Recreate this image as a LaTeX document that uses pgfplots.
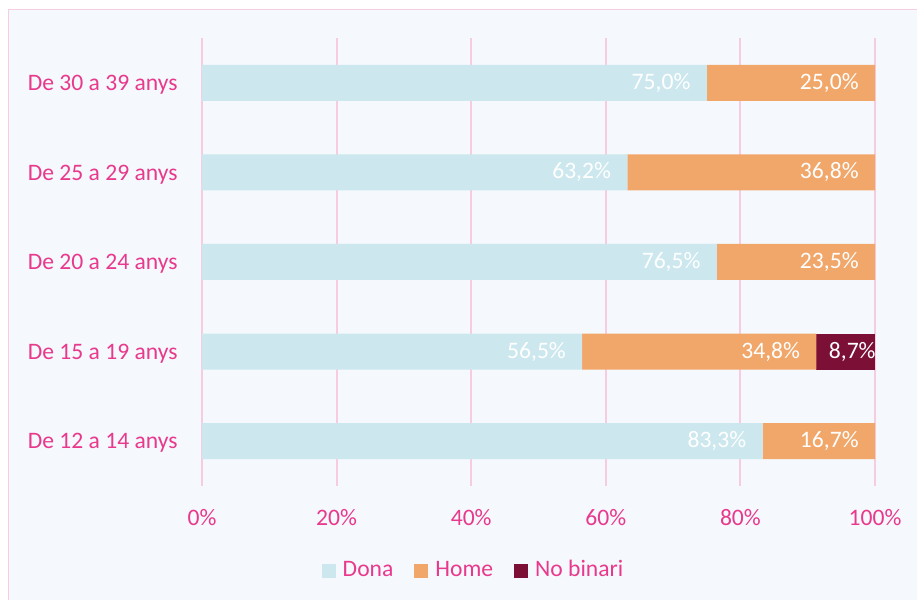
\documentclass[border=0pt]{standalone}
\usepackage{pgfplots}
\pgfplotsset{compat=1.18}
\usepackage{fontspec}
\setmainfont{Carlito}
\definecolor{dona}{HTML}{CCE8EE}
\definecolor{home}{HTML}{F1A76A}
\definecolor{nob}{HTML}{7B0F35}
\definecolor{pinktxt}{HTML}{E8398D}
\definecolor{bgc}{HTML}{F5F9FD}
\definecolor{framec}{HTML}{F7CDE2}
\definecolor{gridc}{HTML}{F8CCE0}
\begin{document}
\fontsize{11.8pt}{14pt}\selectfont
\begin{tikzpicture}
\useasboundingbox (0,0) rectangle (458.5pt,300pt);
\fill[white] (0,0) rectangle (458.5pt,300pt);
\begin{scope}
\clip (0,0) rectangle (458.5pt,300pt);
\filldraw[fill=bgc, draw=framec, line width=0.6pt] (4.25pt,295.3pt) rectangle (470pt,-10pt);
\end{scope}
\begin{axis}[
  at={(101pt,57pt)}, anchor=south west,
  scale only axis, width=336.5pt, height=224pt,
  xbar stacked, bar width=18pt,
  xmin=0, xmax=100, ymin=-0.5, ymax=4.5,
  enlargelimits=false,
  axis line style={draw=none},
  xtick={0,20,40,60,80,100},
  xticklabels={0\%,20\%,40\%,60\%,80\%,100\%},
  ytick={0,1,2,3,4},
  yticklabels={De 12 a 14 anys,De 15 a 19 anys,De 20 a 24 anys,De 25 a 29 anys,De 30 a 39 anys},
  major tick length=0pt,
  tick style={draw=none},
  xmajorgrids, ymajorgrids=false,
  major grid style={draw=gridc, line width=1pt},
  xticklabel style={font=\fontsize{11.8pt}{14pt}\selectfont, text=pinktxt, inner sep=0pt, anchor=north, yshift=-11.5pt},
  yticklabel style={font=\fontsize{11.8pt}{14pt}\selectfont, text=pinktxt, inner sep=0pt, anchor=east, xshift=-12pt, yshift=-1pt},
  point meta=explicit symbolic,
  visualization depends on={rawx \as \rawx},
  nodes near coords={\pgfplotspointmeta},
  every node near coord/.append style={font=\fontsize{11.8pt}{14pt}\selectfont, text=white, anchor=east, inner sep=0pt, xshift={\rawx*1.6825pt-8pt}},
  legend columns=3,
  legend style={at={(0.4072,0)}, anchor=center, yshift=-42.5pt, draw=none, fill=none,
    font=\fontsize{11.8pt}{14pt}\selectfont, text=pinktxt,
    /tikz/every even column/.append style={column sep=7pt},
    nodes={inner sep=0pt, inner xsep=3.5pt, text height=8.5pt, text depth=2.5pt}},
  legend image code/.code={\fill[#1] (0pt,-3.5pt) rectangle (7pt,3.5pt);},
]
\addplot[fill=dona, draw=none] coordinates {
  (83.3,0) [{83,3\%}]
  (56.5,1) [{56,5\%}]
  (76.5,2) [{76,5\%}]
  (63.2,3) [{63,2\%}]
  (75.0,4) [{75,0\%}]
};
\addlegendentry{Dona}
\addplot[fill=home, draw=none] coordinates {
  (16.7,0) [{16,7\%}]
  (34.8,1) [{34,8\%}]
  (23.5,2) [{23,5\%}]
  (36.8,3) [{36,8\%}]
  (25.0,4) [{25,0\%}]
};
\addlegendentry{Home}
\addplot[fill=nob, draw=none, every node near coord/.append style={xshift=8.5pt}] coordinates {
  (0,0) [{}]
  (8.7,1) [{8,7\%}]
  (0,2) [{}]
  (0,3) [{}]
  (0,4) [{}]
};
\addlegendentry{No binari}
\end{axis}
\end{tikzpicture}
\end{document}
